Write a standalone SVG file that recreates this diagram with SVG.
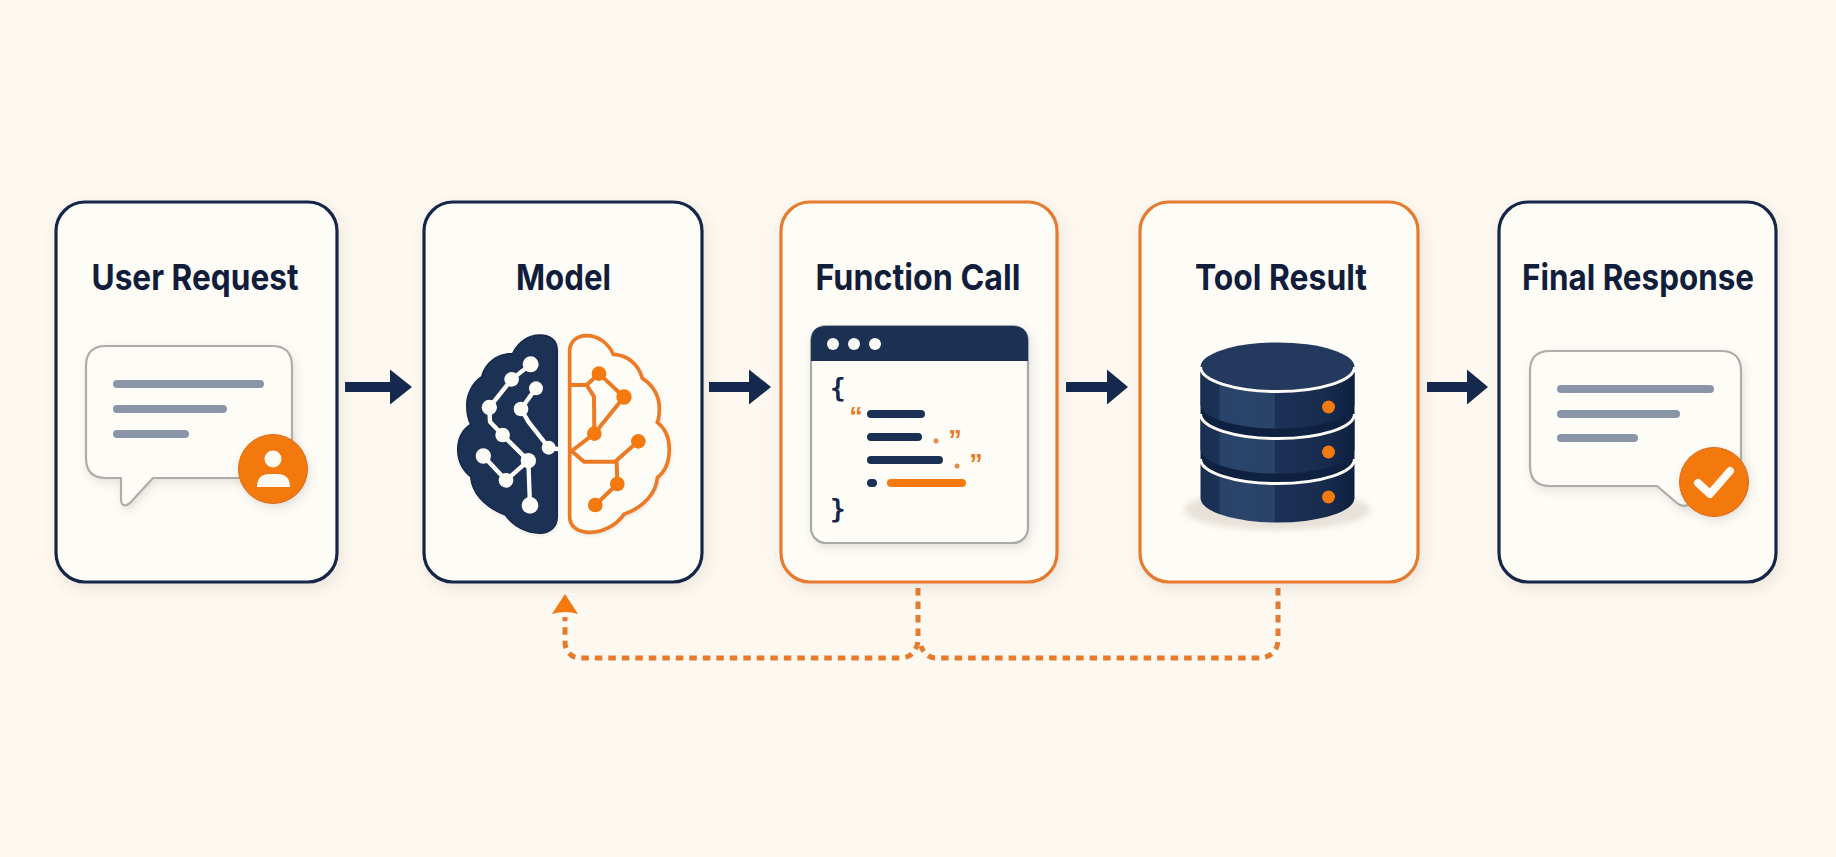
<svg xmlns="http://www.w3.org/2000/svg" width="1836" height="857" viewBox="0 0 1836 857">
<style>
.card{fill:#fefcf7;stroke-width:3.2;filter:url(#cs)}
.navy{stroke:#14264a}
.orange{stroke:#e67a2e}
.title{font-family:Inter,"Liberation Sans",sans-serif;font-weight:700;font-size:36px;fill:#111d3a;text-anchor:middle}
.bubble{fill:#fefcf7;stroke:#aeadaa;stroke-width:2.2;stroke-linejoin:round;filter:url(#ss)}
.gl{stroke:#8a95a9;stroke-width:8;stroke-linecap:round;fill:none}
.badge{fill:#f4790f;stroke:#d9691a;stroke-width:1;filter:url(#ss)}
.arrow{fill:#14294d}
.dash{fill:none;stroke:#e87a2c;stroke-width:5;stroke-dasharray:7.500 6}
.nl{stroke:#1a3154;stroke-width:8;stroke-linecap:round;fill:none}
.ol{stroke:#f4790f;stroke-width:8;stroke-linecap:round;fill:none}
.wl{stroke:#fdfbf6;stroke-width:13;stroke-linejoin:round;stroke-linecap:round;fill:none}
.ob{stroke:#ec7a25;stroke-width:12;stroke-linejoin:round;stroke-linecap:round;fill:none}
.code{font-family:"DejaVu Sans Mono","Liberation Mono",monospace;font-weight:700;font-size:26px;fill:#14264a}
.q{font-family:"Liberation Sans",sans-serif;font-weight:700;font-size:27px;fill:#ec7a25;text-anchor:middle}
.side{fill:url(#dbg)}
.wa{fill:none;stroke:#fdfbf6;stroke-width:3}
</style>
<defs>
<filter id="cs" x="-15%" y="-15%" width="130%" height="130%"><feDropShadow dx="3" dy="5" stdDeviation="7" flood-color="#6b5a40" flood-opacity=".12"/></filter>
<filter id="ss" x="-20%" y="-20%" width="140%" height="150%"><feDropShadow dx="2" dy="4" stdDeviation="4" flood-color="#504a40" flood-opacity=".15"/></filter>
<filter id="blur" x="-20%" y="-50%" width="140%" height="200%"><feGaussianBlur stdDeviation="3"/></filter>
<linearGradient id="dbg" x1="0" x2="1" y1="0" y2="0">
<stop offset="0" stop-color="#1a2f50"/><stop offset=".12" stop-color="#1c3255"/><stop offset=".13" stop-color="#29436b"/><stop offset=".48" stop-color="#2a4468"/><stop offset=".485" stop-color="#1c3156"/><stop offset=".8" stop-color="#182c4e"/><stop offset="1" stop-color="#0e2040"/>
</linearGradient>
</defs>
<rect width="1836" height="857" fill="#fdf8f0"/>

<g id="connectors">
<path class="arrow" d="M345 382H390V369.500L412 387L390 404.500V392H345Z"/>
<path class="arrow" d="M709 382H749V369.500L771 387L749 404.500V392H709Z"/>
<path class="arrow" d="M1066 382H1107V369.500L1128 387L1107 404.500V392H1066Z"/>
<path class="arrow" d="M1427 382H1467V369.500L1488 387L1467 404.500V392H1427Z"/>
<path class="dash" d="M918 588V642C916 650 912 658 900 658H580C571 658 565 651 565 642V617"/>
<path class="dash" d="M1278 588V640C1278 651 1270 658 1258 658H936C928 658 923 652 921 646"/>
<path d="M565 594L578 614Q565 610 552 614Z" fill="#f4790f"/>
</g>

<g id="user-request">
<rect class="card navy" x="56" y="202" width="281" height="380" rx="29"/>
<text class="title" x="195" y="290" textLength="207" lengthAdjust="spacingAndGlyphs">User Request</text>
<path class="bubble" d="M106 346H272Q292 346 292 366V458Q292 478 272 478H153L130 503Q122 509 121 500V478H106Q86 478 86 458V366Q86 346 106 346Z"/>
<path class="gl" d="M117 384H260M117 409H223M117 434H185"/>
<circle class="badge" cx="273" cy="469" r="34.500"/>
<circle cx="273" cy="459" r="8.500" fill="#fefaf3"/>
<path d="M257 487Q257 474 270 474H277Q290 474 290 487Z" fill="#fefaf3"/>
</g>

<g id="model">
<rect class="card navy" x="424" y="202" width="278" height="380" rx="29"/>
<text class="title" x="563.500" y="290" textLength="95" lengthAdjust="spacingAndGlyphs">Model</text>
<g transform="translate(450 325) scale(.3333)">
<g filter="url(#ss)">
<path fill="#1a3154" stroke="#14264a" stroke-width="4" d="M322 75C322 45 300 30 270 30C235 30 205 50 188 85C140 85 105 115 95 155C65 175 50 210 50 240C50 265 55 285 62 298C35 315 23 345 23 375C23 410 40 440 62 455C65 500 100 545 165 570C190 605 230 625 270 625C300 625 322 605 322 575Z"/>
<path fill="#fefcf7" stroke="#ec7a25" stroke-width="11" d="M359 80C359 50 380 32 410 32C445 32 475 55 490 88C530 90 565 115 577 160C610 180 628 215 628 250C628 265 628 280 622 292C645 310 658 340 658 372C658 410 645 440 622 458C620 500 585 545 522 568C495 605 455 622 420 622C385 622 359 605 359 575Z"/>
</g>
<path class="wl" d="M242 118L185 163L118 247L120 290L158 330L235 407L240 541M235 407L168 466L100 393M258 190L213 252L235 290L296 368L322 372"/>
<g fill="#fdfbf6"><circle cx="242" cy="118" r="24"/><circle cx="185" cy="163" r="22"/><circle cx="118" cy="247" r="23"/><circle cx="258" cy="190" r="21"/><circle cx="213" cy="252" r="22"/><circle cx="158" cy="330" r="22"/><circle cx="296" cy="368" r="21"/><circle cx="235" cy="407" r="23"/><circle cx="100" cy="393" r="23"/><circle cx="168" cy="466" r="22"/><circle cx="240" cy="541" r="25"/></g>
<path class="ob" d="M362 180H410L447 146L522 216L433 326L365 378M410 180L432 215L433 326M365 378L402 410H495L565 349M500 410L502 477L436 540"/>
<g fill="#f4790f"><circle cx="447" cy="146" r="22"/><circle cx="522" cy="216" r="23"/><circle cx="433" cy="326" r="22"/><circle cx="565" cy="349" r="22"/><circle cx="502" cy="477" r="22"/><circle cx="436" cy="540" r="22"/></g>
</g>
</g>

<g id="function-call">
<rect class="card orange" x="781" y="202" width="276" height="380" rx="29"/>
<text class="title" x="918" y="290" textLength="205" lengthAdjust="spacingAndGlyphs">Function Call</text>
<rect x="811" y="326" width="217" height="217" rx="15" fill="#fefcf7" stroke="#a9a9a7" stroke-width="2.200" filter="url(#ss)"/>
<path d="M811 361V341Q811 326 826 326H1013Q1028 326 1028 341V361Z" fill="#1a3154"/>
<g fill="#fdfbf6"><circle cx="833" cy="344" r="6"/><circle cx="854" cy="344" r="6"/><circle cx="875" cy="344" r="6"/></g>
<text class="code" x="830" y="397">{</text>
<text class="code" x="830" y="518">}</text>
<text class="q" x="856" y="426">“</text>
<text class="q" x="955" y="449">”</text>
<text class="q" x="976" y="473">”</text>
<path class="nl" d="M871 414H921M871 437H918M871 460H939M871 483H873"/>
<path class="ol" d="M891 483H962"/>
<g fill="#e8894a"><circle cx="936" cy="441" r="2.500"/><circle cx="957" cy="466" r="2.500"/></g>
</g>

<g id="tool-result">
<rect class="card orange" x="1140" y="202" width="278" height="380" rx="29"/>
<text class="title" x="1281" y="290" textLength="172" lengthAdjust="spacingAndGlyphs">Tool Result</text>
<ellipse cx="1277" cy="510" rx="93" ry="20" fill="#e7e2d9" filter="url(#blur)"/>
<path d="M1200.500 367V459A77 24.500 0 0 0 1354.500 459V367Z" fill="#0f2140"/>
<path class="side" d="M1200.500 459A77 24.500 0 0 0 1354.500 459V498A77 24.500 0 0 1 1200.500 498Z"/>
<path class="side" d="M1200.500 414A77 24.500 0 0 0 1354.500 414V449A77 24.500 0 0 1 1200.500 449Z"/>
<path class="side" d="M1200.500 367A77 24.500 0 0 0 1354.500 367V404A77 24.500 0 0 1 1200.500 404Z"/>
<ellipse cx="1277.500" cy="367" rx="77" ry="24.500" fill="#233a5e"/>
<path class="wa" d="M1200.500 367A77 24.500 0 0 0 1354.500 367"/>
<path class="wa" d="M1200.500 414A77 24.500 0 0 0 1354.500 414"/>
<path class="wa" d="M1200.500 459A77 24.500 0 0 0 1354.500 459"/>
<g fill="#f4790f"><circle cx="1328.500" cy="407" r="6.500"/><circle cx="1328.500" cy="452" r="6.500"/><circle cx="1328.500" cy="497" r="6.500"/></g>
</g>

<g id="final-response">
<rect class="card navy" x="1499" y="202" width="277" height="380" rx="29"/>
<text class="title" x="1638" y="290" textLength="232" lengthAdjust="spacingAndGlyphs">Final Response</text>
<path class="bubble" d="M1550 351H1721Q1741 351 1741 371V466Q1741 486 1721 486H1700L1690 504Q1682 508 1677 503L1657 486H1550Q1530 486 1530 466V371Q1530 351 1550 351Z"/>
<path class="gl" d="M1561 389H1710M1561 414H1676M1561 438H1634"/>
<circle class="badge" cx="1714" cy="482" r="34.500"/>
<path d="M1698 483L1710 494L1730 471" fill="none" stroke="#fefaf3" stroke-width="8" stroke-linecap="round" stroke-linejoin="round"/>
</g>
</svg>
